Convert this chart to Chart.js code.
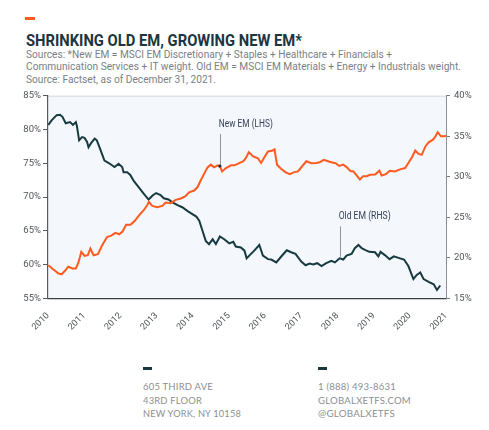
<!DOCTYPE html>
<html>
<head>
<meta charset="utf-8">
<script src="https://cdn.jsdelivr.net/npm/chart.js@4.4.1/dist/chart.umd.min.js"></script>
<style>
  html, body { margin: 0; padding: 0; background: #ffffff; }
  body { width: 489px; height: 430px; position: relative; overflow: hidden; }
  .t { position: absolute; white-space: nowrap; line-height: 1; transform-origin: 0 0; }
  #title { left: 26px; top: 31px; font: bold 16px "Roboto", sans-serif; color: #1c3540; }
  .sub { left: 26px; font: 10.8px "Roboto", sans-serif; color: #7a7f86; }
  .foot { font: 9px "Lato", "Roboto", sans-serif; color: #8c8f93; letter-spacing: 0.2px; }
  .dash { position: absolute; height: 3px; width: 9px; background: #173a40; }
  #chartWrap { position: absolute; left: 0; top: 85px; width: 489px; height: 265px; }
</style>
</head>
<body>
<div style="position:absolute;left:25px;top:17px;width:10px;height:2.5px;background:#ff5a1f"></div>
<div id="title" class="t" data-w="276">SHRINKING OLD EM, GROWING NEW EM*</div>
<div class="t sub" style="top:47.8px" data-w="366">Sources: *New EM = MSCI EM Discretionary + Staples + Healthcare + Financials +</div>
<div class="t sub" style="top:60.4px" data-w="435">Communication Services + IT weight. Old EM = MSCI EM Materials + Energy + Industrials weight.</div>
<div class="t sub" style="top:73.3px" data-w="190">Source: Factset, as of December 31, 2021.</div>

<div id="chartWrap"><canvas id="c" width="489" height="265"></canvas></div>

<div class="dash" style="left:143.3px;top:367.3px"></div>
<div class="dash" style="left:318.3px;top:367.3px"></div>
<div class="t foot" style="left:143.3px;top:381.2px" data-w="70">605 THIRD AVE</div>
<div class="t foot" style="left:143.3px;top:394.5px" data-w="59">43RD FLOOR</div>
<div class="t foot" style="left:143.3px;top:407.8px" data-w="98">NEW YORK, NY 10158</div>
<div class="t foot" style="left:318.3px;top:381.2px" data-w="78">1 (888) 493-8631</div>
<div class="t foot" style="left:318.3px;top:394.5px" data-w="93">GLOBALXETFS.COM</div>
<div class="t foot" style="left:318.3px;top:407.8px" data-w="77">@GLOBALXETFS</div>

<script>
// ---------------- DATA ----------------
const xTickValues = [2010, 2011, 2012, 2013, 2014, 2015, 2016, 2017, 2018, 2019, 2020, 2021];
const xTickLabels = ['2010', '2011', '2012', '2013', '2014', '2015', '2016', '2017', '2018', '2019', '2020', '2021'];
const leftTicks = [55, 60, 65, 70, 75, 80, 85];
const rightTicks = [15, 20, 25, 30, 35, 40];

// New EM weight (LHS, %)
const newEmDates = [2010.01, 2010.15, 2010.29, 2010.38, 2010.47, 2010.56, 2010.68, 2010.77, 2010.84, 2010.92,
  2011.01, 2011.10, 2011.17, 2011.26, 2011.38, 2011.49, 2011.63, 2011.75, 2011.86, 2011.97,
  2012.06, 2012.16, 2012.28, 2012.40, 2012.51, 2012.65, 2012.74, 2012.79, 2012.88,
  2013.02, 2013.16, 2013.25, 2013.39, 2013.53, 2013.67, 2013.79, 2013.90,
  2014.04, 2014.13, 2014.22, 2014.31, 2014.41, 2014.50, 2014.59, 2014.69, 2014.75, 2014.81, 2014.92,
  2015.06, 2015.15, 2015.27, 2015.40, 2015.47, 2015.55, 2015.66, 2015.80, 2015.89, 2015.98,
  2016.08, 2016.21, 2016.26, 2016.33, 2016.44, 2016.56, 2016.68, 2016.81, 2016.91,
  2017.03, 2017.14, 2017.28, 2017.42, 2017.51, 2017.62, 2017.74, 2017.83, 2017.95,
  2018.05, 2018.16, 2018.26, 2018.36, 2018.44, 2018.53, 2018.62, 2018.71, 2018.81, 2018.90,
  2019.04, 2019.16, 2019.22, 2019.34, 2019.45, 2019.59, 2019.73, 2019.87, 2019.96,
  2020.06, 2020.15, 2020.24, 2020.33, 2020.43, 2020.52, 2020.64, 2020.70, 2020.77, 2020.86, 2020.95, 2021.00];
const newEmValues = [59.9, 59.3, 58.7, 58.6, 59.1, 59.7, 59.45, 59.45, 60.3, 61.9,
  61.3, 61.4, 62.4, 61.4, 61.55, 62.8, 64.1, 64.3, 64.7, 64.5,
  64.9, 65.9, 65.9, 66.5, 67.25, 68.1, 68.8, 69.3, 68.7,
  68.5, 68.7, 69.2, 69.1, 69.6, 69.8, 70.1, 70.7,
  70.97, 71.45, 72.45, 73.4, 74.4, 74.8, 74.4, 74.7, 74.6, 73.8, 74.3,
  74.7, 74.7, 75.0, 75.3, 75.8, 76.65, 76.05, 75.75, 75.05, 75.9,
  76.75, 76.9, 77.05, 74.8, 74.2, 73.7, 73.4, 73.7, 73.8,
  74.6, 75.3, 75.0, 75.05, 75.15, 75.5, 75.3, 75.15, 75.0,
  74.6, 74.8, 74.4, 73.85, 73.8, 73.2, 72.6, 73.1, 73.1, 73.3,
  73.35, 73.9, 73.2, 73.4, 73.9, 73.8, 74.1, 74.3, 75.05,
  75.9, 76.9, 76.4, 76.25, 77.5, 78.1, 78.5, 78.9, 79.6, 79.0, 79.0, 79.1];

// Old EM weight (RHS, %)
const oldEmDates = [2010.01, 2010.10, 2010.24, 2010.33, 2010.40, 2010.49, 2010.61, 2010.69, 2010.77, 2010.80,
  2010.86, 2010.94, 2011.01, 2011.08, 2011.12, 2011.19, 2011.29, 2011.35, 2011.44, 2011.56, 2011.68, 2011.84, 2011.95,
  2012.05, 2012.09, 2012.19, 2012.28, 2012.37, 2012.51, 2012.65, 2012.78, 2012.89, 2012.99,
  2013.11, 2013.20, 2013.33, 2013.44, 2013.58, 2013.71, 2013.85, 2013.99,
  2014.10, 2014.18, 2014.27, 2014.36, 2014.45, 2014.55, 2014.64, 2014.75, 2014.87,
  2015.01, 2015.12, 2015.19, 2015.33, 2015.43, 2015.49, 2015.61, 2015.70, 2015.84, 2015.94,
  2016.08, 2016.17, 2016.31, 2016.47, 2016.60, 2016.72, 2016.84,
  2017.00, 2017.12, 2017.23, 2017.33, 2017.44, 2017.56, 2017.69, 2017.83, 2017.93,
  2018.06, 2018.16, 2018.25, 2018.39, 2018.48, 2018.58, 2018.67, 2018.76, 2018.88,
  2019.04, 2019.13, 2019.19, 2019.31, 2019.44, 2019.56, 2019.73, 2019.84, 2019.96,
  2020.10, 2020.19, 2020.29, 2020.38, 2020.52, 2020.66, 2020.75, 2020.84];
const oldEmValues = [36.4, 36.96, 37.6, 37.65, 37.4, 36.6, 36.75, 36.4, 36.75, 36.25,
  34.5, 34.9, 34.8, 34.3, 33.65, 34.15, 34.7, 34.5, 33.45, 32.0, 31.7, 31.2, 31.6,
  31.2, 30.55, 30.55, 30.2, 29.5, 28.7, 27.9, 27.2, 27.7, 28.0,
  27.75, 27.35, 27.2, 26.85, 26.5, 26.25, 25.8, 25.4,
  25.1, 24.6, 23.35, 22.1, 21.7, 22.3, 21.7, 22.65, 22.3,
  21.8, 22.0, 21.4, 21.3, 20.9, 19.95, 20.5, 20.9, 21.6, 20.3,
  19.85, 19.8, 19.45, 20.3, 20.95, 20.7, 20.5,
  19.55, 19.1, 19.3, 19.2, 19.35, 19.0, 19.35, 19.65, 19.45,
  19.95, 19.8, 20.3, 20.5, 21.2, 21.6, 21.2, 21.0, 20.75,
  20.7, 20.2, 20.75, 20.35, 19.85, 20.2, 19.95, 19.8, 19.0,
  17.4, 17.9, 18.2, 17.4, 17.05, 16.75, 16.05, 16.6];

// Callout labels
const calloutText = ['New EM (LHS)', 'Old EM (RHS)'];
const calloutDate = [2014.75, 2018.06];
const calloutValue = [74.6, 19.95];
const calloutAxis = ['yL', 'yR'];

// ---------------- TEXT FITTING ----------------
document.querySelectorAll('[data-w]').forEach(el => {
  const target = parseFloat(el.getAttribute('data-w'));
  const w = el.getBoundingClientRect().width;
  if (w > 0) el.style.transform = 'scaleX(' + (target / w) + ')';
});

// ---------------- CHART ----------------
const ORANGE = '#ff5a1f';
const DARK = '#173a40';
const AXIS_FONT = { family: '"Roboto", sans-serif', size: 9.5 };
const CALLOUT_WIDTHS = [54, 52];

const bgPlugin = {
  id: 'bg',
  beforeDraw(chart) {
    const { ctx, chartArea: a } = chart;
    ctx.save();
    ctx.fillStyle = '#f4f7fb';
    ctx.fillRect(a.left, a.top, a.right - a.left, a.bottom - a.top);
    ctx.strokeStyle = '#d5d9de';
    ctx.lineWidth = 1;
    ctx.beginPath();
    ctx.moveTo(a.left, a.top + 0.5);
    ctx.lineTo(a.right, a.top + 0.5);
    ctx.stroke();
    ctx.restore();
  }
};

const calloutPlugin = {
  id: 'callouts',
  afterDatasetsDraw(chart) {
    const { ctx, scales } = chart;
    ctx.save();
    for (let i = 0; i < calloutText.length; i++) {
      const px = scales.x.getPixelForValue(calloutDate[i]);
      const py = scales[calloutAxis[i]].getPixelForValue(calloutValue[i]);
      ctx.strokeStyle = '#8f959c';
      ctx.lineWidth = 1;
      ctx.beginPath();
      ctx.moveTo(Math.round(px) + 0.5, py);
      ctx.lineTo(Math.round(px) + 0.5, py - 32);
      ctx.stroke();
      if (i === 0) {
        ctx.fillStyle = '#1d2a30';
        ctx.beginPath();
        ctx.arc(px, py, 1.6, 0, Math.PI * 2);
        ctx.fill();
      }
      ctx.fillStyle = '#34435a';
      ctx.font = '10.5px "Roboto", sans-serif';
      ctx.textAlign = 'left';
      ctx.textBaseline = 'middle';
      const w = ctx.measureText(calloutText[i]).width;
      ctx.save();
      ctx.translate(px - 1, py - 42);
      ctx.scale(CALLOUT_WIDTHS[i] / w, 1);
      ctx.fillText(calloutText[i], 0, 0);
      ctx.restore();
    }
    ctx.restore();
  }
};

const newEmPoints = newEmDates.map((d, i) => ({ x: d, y: newEmValues[i] }));
const oldEmPoints = oldEmDates.map((d, i) => ({ x: d, y: oldEmValues[i] }));

new Chart(document.getElementById('c'), {
  type: 'line',
  data: {
    datasets: [
      { label: 'New EM (LHS)', data: newEmPoints, yAxisID: 'yL', borderColor: ORANGE, borderWidth: 2, pointRadius: 0, tension: 0, fill: false },
      { label: 'Old EM (RHS)', data: oldEmPoints, yAxisID: 'yR', borderColor: DARK, borderWidth: 2, pointRadius: 0, tension: 0, fill: false }
    ]
  },
  options: {
    responsive: false,
    animation: false,
    devicePixelRatio: 1,
    layout: { padding: { top: 10.7, left: 0, right: 0, bottom: 0 } },
    plugins: { legend: { display: false }, tooltip: { enabled: false } },
    scales: {
      x: {
        type: 'linear',
        min: xTickValues[0],
        max: xTickValues[xTickValues.length - 1],
        afterBuildTicks: s => { s.ticks = xTickValues.map(v => ({ value: v })); },
        afterFit: s => { s.height = 51.5; },
        grid: { display: false, drawTicks: false },
        border: { display: true, color: '#3a3f44', width: 1.3 },
        ticks: {
          autoSkip: false, minRotation: 45, maxRotation: 45, padding: 12,
          color: '#4a4f55', font: { family: AXIS_FONT.family, size: 9 },
          callback: v => xTickLabels[xTickValues.indexOf(v)]
        }
      },
      yL: {
        position: 'left',
        min: leftTicks[0], max: leftTicks[leftTicks.length - 1],
        afterBuildTicks: s => { s.ticks = leftTicks.map(v => ({ value: v })); },
        afterFit: s => { s.width = 48; },
        grid: { drawOnChartArea: false, drawTicks: true, tickLength: 5, color: '#555a60' },
        border: { display: true, color: '#555a60', width: 1.2 },
        ticks: { padding: 2, color: '#50555c', font: AXIS_FONT, callback: v => v + '%' }
      },
      yR: {
        position: 'right',
        min: rightTicks[0], max: rightTicks[rightTicks.length - 1],
        afterBuildTicks: s => { s.ticks = rightTicks.map(v => ({ value: v })); },
        afterFit: s => { s.width = 43; },
        grid: { drawOnChartArea: false, drawTicks: true, tickLength: 4, color: '#777c82' },
        border: { display: true, color: '#8a8f95', width: 1 },
        ticks: { padding: 4, color: '#50555c', font: AXIS_FONT, callback: v => v + '%' }
      }
    }
  },
  plugins: [bgPlugin, calloutPlugin]
});
</script>
</body>
</html>
